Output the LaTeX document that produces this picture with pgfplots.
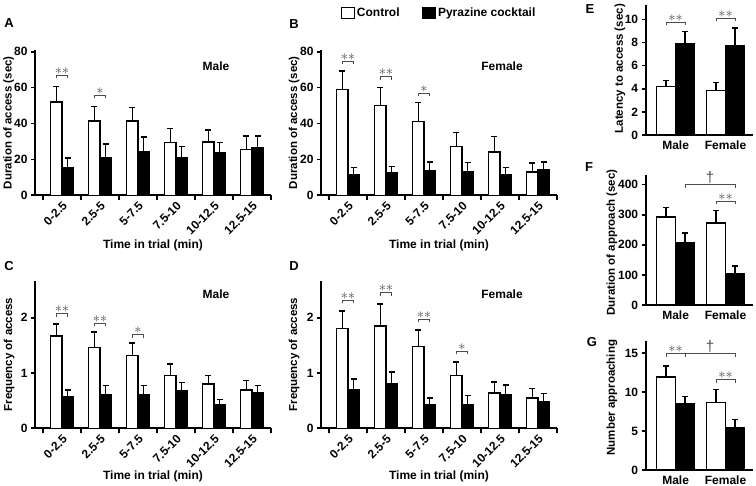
\documentclass[border=0pt]{standalone}
\usepackage{pgfplots}
\pgfplotsset{compat=1.18}
\usepackage{fontspec}
\setmainfont{Liberation Sans}
\definecolor{sig}{gray}{0.3}
\tikzset{
  ctrl/.style={draw=black, fill=white, line width=1.4pt},
  pyr/.style={draw=black, fill=black, line width=1.4pt},
}
\newcommand{\sig}[4]{\draw[sig, line width=0.9pt] ([yshift=-3pt]axis cs:#1,#3) -- (axis cs:#1,#3) -- node[above, inner sep=0.5pt, font=\fontsize{15}{15}\selectfont]{#4} (axis cs:#2,#3) -- ([yshift=-3pt]axis cs:#2,#3);}
\pgfplotsset{
  boxlegend/.style={legend image code/.code={\draw[##1] (0pt,-5.5pt) rectangle (13pt,5.5pt);}},
  panel/.style={
    scale only axis, anchor=south west,
    axis lines=left, axis line style={-, line width=1.8pt},
    tick align=outside, tick style={line width=1.6pt, black},
    major tick length=4pt, minor tick length=5pt,
    ymin=0, enlargelimits=false, clip=false,
    ybar=0pt,
    every tick label/.append style={font=\fontsize{12}{14}\selectfont\bfseries},
    /pgf/number format/assume math mode=true,
    ylabel style={font=\fontsize{11.5}{13}\selectfont\bfseries, anchor=center},
    xlabel style={font=\fontsize{12}{14}\selectfont\bfseries, anchor=center},
    major x tick style={draw=none},
    error bars/y dir=plus, error bars/y explicit,
    error bars/error bar style={line width=1.4pt, black},
    error bars/error mark options={rotate=90, mark size=3pt, line width=1.4pt, black},
  },
  timeaxis/.style={panel, width=236pt, xmin=-0.71, xmax=5.5,
    xtick={0,1,2,3,4,5}, xticklabels={0-2.5,2.5-5,5-7.5,7.5-10,10-12.5,12.5-15},
    minor xtick={-0.5,0.5,1.5,2.5,3.5,4.5,5.5}, bar width=11.3pt,
    xticklabel style={rotate=45, anchor=north east, inner sep=1pt},
    xlabel={Time in trial (min)},
  },
  sexaxis/.style={panel, width=107.3pt, xmin=-0.6, xmax=1.55,
    xtick={0,1}, xticklabels={Male,Female}, bar width=19pt,
    xticklabel style={inner sep=2pt}},
}
\begin{document}
\begin{tikzpicture}[font=\fontsize{12}{14}\selectfont\bfseries]
\useasboundingbox (0,0) rectangle (756pt,-486pt);

% ---------- A ----------
\begin{axis}[timeaxis, at={(35pt,-195.3pt)}, height=145.3pt, ymax=81,
  ytick={0,20,40,60,80}, ylabel={Duration of access (sec)},
  ylabel style={at={(axis description cs:-0.112,0.5)}},
  xlabel style={at={(axis description cs:0.5,-0.342)}}]
\addplot[ctrl] coordinates {(0,51.9) +- (0,8.8) (1,41.5) +- (0,8.0) (2,41.5) +- (0,7.4) (3,29.4) +- (0,7.8) (4,29.7) +- (0,6.7) (5,25.6) +- (0,7.4)};
\addplot[pyr] coordinates {(0,15.6) +- (0,5.2) (1,20.8) +- (0,7.7) (2,24.4) +- (0,8.2) (3,21.2) +- (0,5.9) (4,23.8) +- (0,5.5) (5,26.4) +- (0,6.6)};
\sig{-0.149}{0.149}{67}{$\ast\ast$}
\sig{0.851}{1.149}{55.8}{$\ast$}
\node at (rel axis cs:0.767,0.89) {Male};
\end{axis}

% ---------- B ----------
\begin{axis}[timeaxis, at={(321pt,-195.3pt)}, height=145.3pt, ymax=81,
  ytick={0,20,40,60,80}, ylabel={Duration of access (sec)},
  ylabel style={at={(axis description cs:-0.114,0.5)}},
  xlabel style={at={(axis description cs:0.5,-0.342)}},
  legend style={at={(0.5,1.255)}, anchor=center, draw=none, fill=none,
    legend columns=2, font=\fontsize{12}{14}\selectfont\bfseries,
    /tikz/every even column/.append style={column sep=20pt}}]
\addplot[ctrl, boxlegend] coordinates {(0,59.0) +- (0,10.2) (1,50.1) +- (0,10.0) (2,41.2) +- (0,10.4) (3,27.1) +- (0,7.8) (4,24.1) +- (0,8.6) (5,13.0) +- (0,5.0)};
\addplot[pyr, boxlegend] coordinates {(0,11.5) +- (0,3.9) (1,12.6) +- (0,3.4) (2,13.7) +- (0,4.9) (3,13.4) +- (0,4.8) (4,11.5) +- (0,3.9) (5,14.0) +- (0,4.5)};
\legend{Control, Pyrazine cocktail}
\sig{-0.149}{0.149}{74.8}{$\ast\ast$}
\sig{0.851}{1.149}{66.1}{$\ast\ast$}
\sig{1.851}{2.149}{56.8}{$\ast$}
\node at (rel axis cs:0.767,0.89) {Female};
\end{axis}

% ---------- C ----------
\begin{axis}[timeaxis, at={(35pt,-428.3pt)}, height=147.6pt, ymax=2.67,
  ytick={0,1,2}, ylabel={Frequency of access},
  ylabel style={at={(axis description cs:-0.11,0.5)}},
  xlabel style={at={(axis description cs:0.5,-0.323)}}]
\addplot[ctrl] coordinates {(0,1.67) +- (0,0.22) (1,1.46) +- (0,0.28) (2,1.32) +- (0,0.22) (3,0.96) +- (0,0.20) (4,0.80) +- (0,0.16) (5,0.69) +- (0,0.17)};
\addplot[pyr] coordinates {(0,0.58) +- (0,0.11) (1,0.61) +- (0,0.16) (2,0.61) +- (0,0.16) (3,0.68) +- (0,0.15) (4,0.43) +- (0,0.09) (5,0.64) +- (0,0.13)};
\sig{-0.149}{0.149}{2.07}{$\ast\ast$}
\sig{0.851}{1.149}{1.90}{$\ast\ast$}
\sig{1.851}{2.149}{1.69}{$\ast$}
\node at (rel axis cs:0.767,0.91) {Male};
\end{axis}

% ---------- D ----------
\begin{axis}[timeaxis, at={(321pt,-428.3pt)}, height=147.6pt, ymax=2.67,
  ytick={0,1,2}, ylabel={Frequency of access},
  ylabel style={at={(axis description cs:-0.114,0.5)}},
  xlabel style={at={(axis description cs:0.5,-0.323)}}]
\addplot[ctrl] coordinates {(0,1.80) +- (0,0.32) (1,1.85) +- (0,0.40) (2,1.48) +- (0,0.30) (3,0.96) +- (0,0.24) (4,0.64) +- (0,0.20) (5,0.55) +- (0,0.17)};
\addplot[pyr] coordinates {(0,0.69) +- (0,0.20) (1,0.80) +- (0,0.22) (2,0.43) +- (0,0.12) (3,0.43) +- (0,0.16) (4,0.60) +- (0,0.18) (5,0.48) +- (0,0.15)};
\sig{-0.149}{0.149}{2.32}{$\ast\ast$}
\sig{0.851}{1.149}{2.45}{$\ast\ast$}
\sig{1.851}{2.149}{1.97}{$\ast\ast$}
\sig{2.851}{3.149}{1.39}{$\ast$}
\node at (rel axis cs:0.767,0.91) {Female};
\end{axis}

% ---------- E ----------
\begin{axis}[sexaxis, at={(645.7pt,-135pt)}, height=130pt, ymax=11.24,
  ytick={0,2,4,6,8,10}, ylabel={Latency to access (sec)},
  ylabel style={at={(axis description cs:-0.24,0.51)}}]
\addplot[ctrl] coordinates {(0,4.18) +- (0,0.55) (1,3.83) +- (0,0.69)};
\addplot[pyr] coordinates {(0,7.93) +- (0,1.03) (1,7.69) +- (0,1.56)};
\sig{-0.19}{0.19}{9.74}{$\ast\ast$}
\sig{0.81}{1.19}{10.1}{$\ast\ast$}
\end{axis}

% ---------- F ----------
\begin{axis}[sexaxis, at={(645.7pt,-305pt)}, height=130pt, ymax=432,
  ytick={0,100,200,300,400}, ylabel={Duration of approach (sec)},
  ylabel style={at={(axis description cs:-0.314,0.48)}}]
\addplot[ctrl] coordinates {(0,292) +- (0,32) (1,272) +- (0,42)};
\addplot[pyr] coordinates {(0,208) +- (0,31) (1,104) +- (0,26)};
\sig{0.19}{1.19}{400}{\textdagger}
\sig{0.81}{1.19}{344}{$\ast\ast$}
\end{axis}

% ---------- G ----------
\begin{axis}[sexaxis, at={(645.7pt,-470pt)}, height=129.3pt, ymax=16.6,
  ytick={0,5,10,15}, ylabel={Number approaching},
  ylabel style={at={(axis description cs:-0.314,0.56)}}]
\addplot[ctrl] coordinates {(0,11.96) +- (0,1.37) (1,8.68) +- (0,1.67)};
\addplot[pyr] coordinates {(0,8.46) +- (0,0.94) (1,5.47) +- (0,1.03)};
\sig{-0.19}{0.19}{14.9}{$\ast\ast$}
\sig{0.19}{1.19}{14.9}{\textdagger}
\sig{0.81}{1.19}{11.57}{$\ast\ast$}
\end{axis}

% panel letters
\begin{scope}[font=\fontsize{13}{14}\selectfont\bfseries]
\node at (9pt,-23pt) {A};
\node at (294pt,-24pt) {B};
\node at (9pt,-266pt) {C};
\node at (294pt,-266pt) {D};
\node at (590pt,-9pt) {E};
\node at (589pt,-167pt) {F};
\node at (592pt,-342pt) {G};
\end{scope}
\end{tikzpicture}
\end{document}
